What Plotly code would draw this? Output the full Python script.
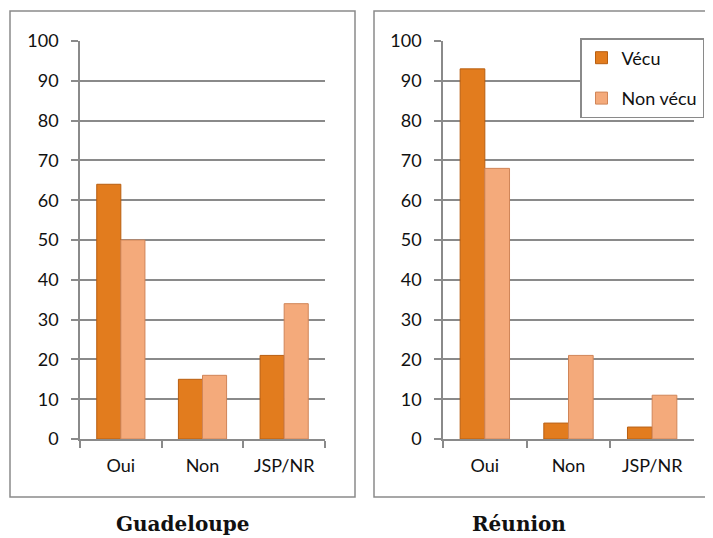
import plotly.graph_objects as go

categories = ['Oui', 'Non', 'JSP/NR']
guadeloupe_vecu = [64, 15, 21]
guadeloupe_non_vecu = [50, 16, 34]
reunion_vecu = [93, 4, 3]
reunion_non_vecu = [68, 21, 11]
y_ticks = [0, 10, 20, 30, 40, 50, 60, 70, 80, 90, 100]

# the page has an 8px body margin: the figure starts at (8, 8) in the window
W, H = 705, 530
M = 8


def px(x):
    return (x - M) / W


def py(y):
    return (H - (y - M)) / H


dark = '#E27C1E'
light = '#F4AA7B'
grid = '#8A8A8A'

fig = go.Figure()
fig.add_trace(go.Bar(x=categories, y=guadeloupe_vecu, name='Vécu',
                     marker=dict(color=dark, line=dict(color='#B85E10', width=1)),
                     legendgroup='a', showlegend=False, xaxis='x', yaxis='y'))
fig.add_trace(go.Bar(x=categories, y=guadeloupe_non_vecu, name='Non vécu',
                     marker=dict(color=light, line=dict(color='#D08558', width=1)),
                     legendgroup='b', showlegend=False, xaxis='x', yaxis='y'))
fig.add_trace(go.Bar(x=categories, y=reunion_vecu, name='Vécu',
                     marker=dict(color=dark, line=dict(color='#B85E10', width=1)),
                     legendgroup='a', xaxis='x2', yaxis='y2'))
fig.add_trace(go.Bar(x=categories, y=reunion_non_vecu, name='Non vécu',
                     marker=dict(color=light, line=dict(color='#D08558', width=1)),
                     legendgroup='b', xaxis='x2', yaxis='y2'))

xaxis_style = dict(showline=True, linecolor=grid, linewidth=1.5, ticks='outside',
                   tickson='boundaries', ticklen=7, tickcolor=grid, tickwidth=1.5,
                   ticklabelstandoff=10, automargin=False,
                   showgrid=False, tickfont=dict(family='Lato', size=18, color='#111'),
                   fixedrange=True)
yaxis_style = dict(range=[0, 100], tickvals=y_ticks, showline=True, linecolor=grid,
                   linewidth=1.5, ticks='outside', ticklen=7, tickcolor=grid, tickwidth=1.5,
                   ticklabelstandoff=9, automargin=False,
                   showgrid=True, gridcolor=grid, gridwidth=1.5, zeroline=False,
                   tickfont=dict(family='Lato', size=18, color='#111'), fixedrange=True)

y_dom = [py(439), py(41)]
fig.update_layout(
    width=W, height=H,
    margin=dict(l=0, r=0, t=0, b=0, autoexpand=False),
    paper_bgcolor='white', plot_bgcolor='white',
    barmode='group', bargap=0.41, bargroupgap=0,
    xaxis=dict(domain=[px(80), px(325)], anchor='y', **xaxis_style),
    yaxis=dict(domain=y_dom, anchor='x', **yaxis_style),
    xaxis2=dict(domain=[px(443), px(694)], anchor='y2', **xaxis_style),
    yaxis2=dict(domain=y_dom, anchor='x2', **yaxis_style),
    legend=dict(x=px(580), y=py(38), xanchor='left', yanchor='top',
                bordercolor=grid, borderwidth=1.5, bgcolor='white',
                traceorder='grouped', tracegroupgap=14, itemwidth=30,
                font=dict(family='Lato', size=18, color='#111')),
    shapes=[
        dict(type='rect', xref='paper', yref='paper', x0=px(10), x1=px(355),
             y0=py(497), y1=py(11), line=dict(color=grid, width=1.5)),
        dict(type='rect', xref='paper', yref='paper', x0=px(374), x1=px(711),
             y0=py(497), y1=py(11), line=dict(color=grid, width=1.5)),
    ],
    annotations=[
        dict(text='<b>Guadeloupe</b>', xref='paper', yref='paper', x=px(182),
             y=py(524), xanchor='center', yanchor='middle', showarrow=False,
             font=dict(family='DejaVu Serif', size=20, color='#111')),
        dict(text='<b>Réunion</b>', xref='paper', yref='paper', x=px(519),
             y=py(524), xanchor='center', yanchor='middle', showarrow=False,
             font=dict(family='DejaVu Serif', size=20, color='#111')),
    ],
)

fig.write_html("out.html")
